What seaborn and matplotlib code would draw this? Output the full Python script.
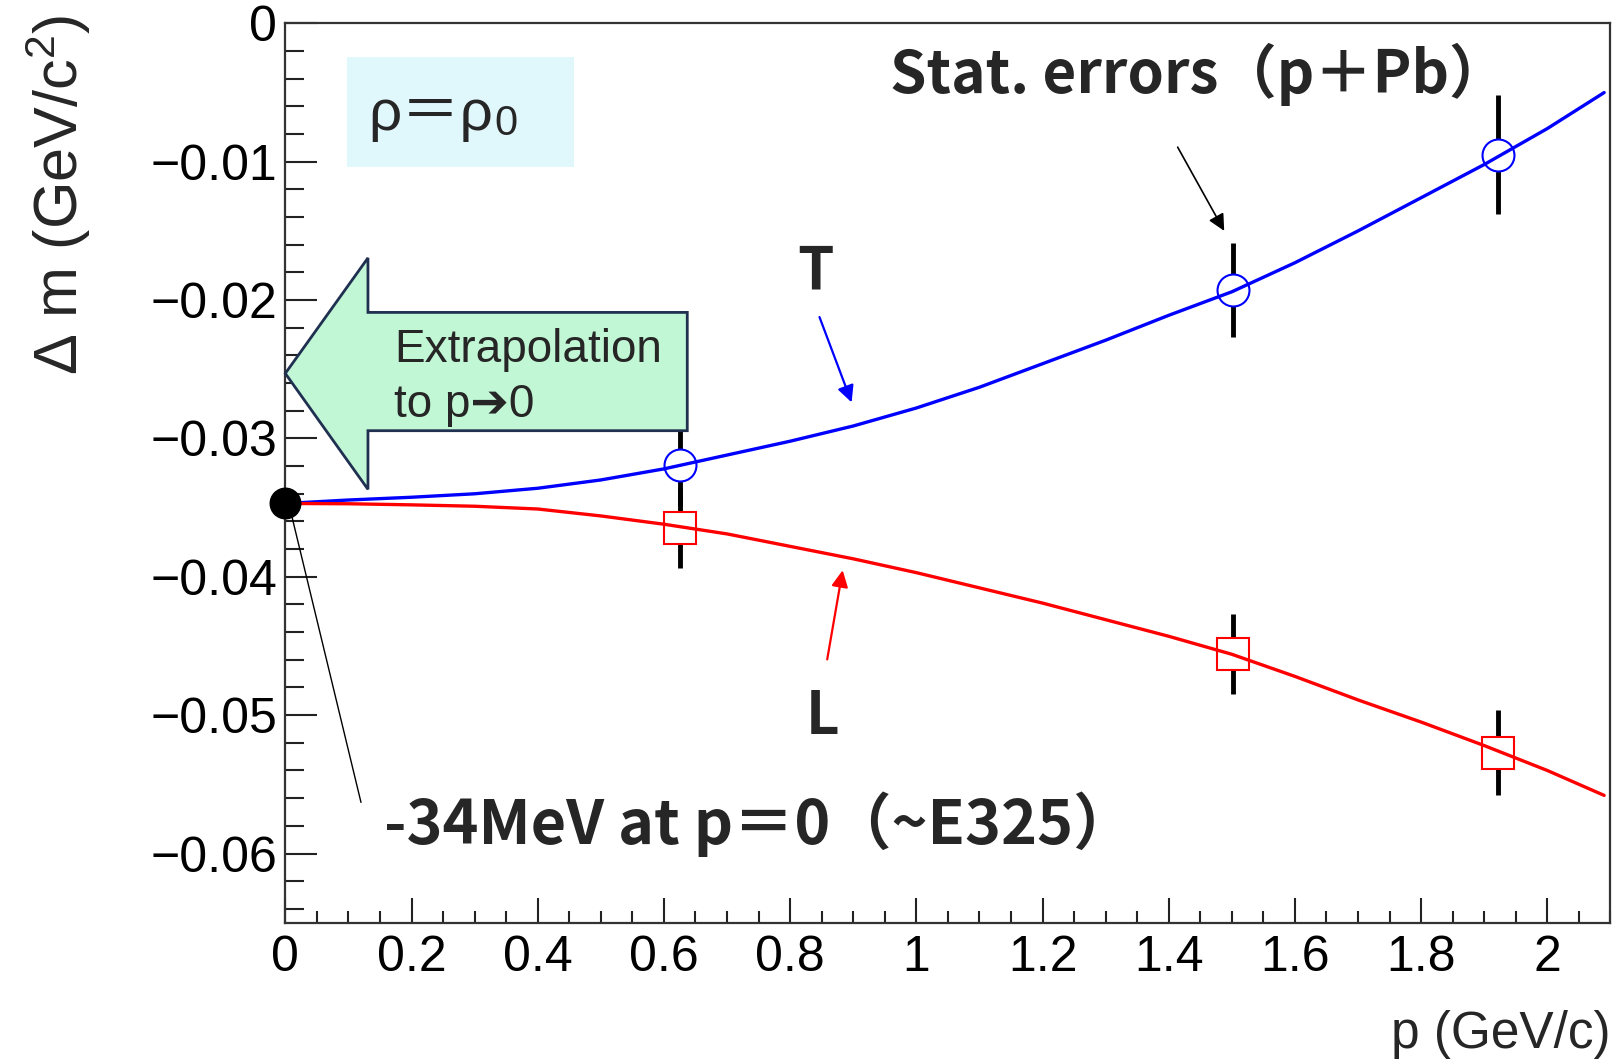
import numpy as np
import pandas as pd
import matplotlib
matplotlib.use("Agg")
import matplotlib.pyplot as plt
import seaborn as sns
from matplotlib.patches import Polygon, Rectangle
from matplotlib.ticker import MultipleLocator, FuncFormatter

# ---------------- data ----------------
p_curve = [0.0, 0.1, 0.2, 0.3, 0.4, 0.5, 0.6, 0.7, 0.8, 0.9, 1.0, 1.1, 1.2,
           1.3, 1.4, 1.5, 1.6, 1.7, 1.8, 1.9, 2.0, 2.09]
t_curve = [-0.0347, -0.03445, -0.03425, -0.0340, -0.0336, -0.0330, -0.0322,
           -0.0312, -0.0302, -0.0291, -0.0278, -0.0263, -0.0246, -0.0229,
           -0.0211, -0.0194, -0.0173, -0.0150, -0.0126, -0.0102, -0.0076, -0.0050]
l_curve = [-0.0347, -0.03472, -0.0348, -0.0349, -0.0351, -0.0356, -0.0362,
           -0.0369, -0.0378, -0.0387, -0.0397, -0.0408, -0.0419, -0.0431,
           -0.0443, -0.0456, -0.0472, -0.0489, -0.0505, -0.0522, -0.0540, -0.0558]

p_pts = [0.626, 1.502, 1.922]
t_pts = [-0.0319, -0.0193, -0.0095]
t_err = [0.0030, 0.0034, 0.0043]
l_pts = [-0.0365, -0.0456, -0.0527]
l_err = [0.0029, 0.0029, 0.0031]

p_zero = [0.0]
m_zero = [-0.0347]

x_ticks = [0, 0.2, 0.4, 0.6, 0.8, 1.0, 1.2, 1.4, 1.6, 1.8, 2.0]
y_ticks = [0, -0.01, -0.02, -0.03, -0.04, -0.05, -0.06]

# ---------------- style ----------------
sns.set_theme(style="ticks")
plt.rcParams["font.family"] = ["Liberation Sans", "DejaVu Sans"]
plt.rcParams["mathtext.fontset"] = "custom"
plt.rcParams["mathtext.rm"] = "Liberation Sans"
plt.rcParams["mathtext.it"] = "Liberation Sans:italic"
plt.rcParams["mathtext.bf"] = "Liberation Sans:bold"

JP = ["Noto Sans CJK JP", "DejaVu Sans"]

fig, ax = plt.subplots(figsize=(16.21, 10.63), dpi=100)
fig.subplots_adjust(left=0.176, right=0.9935, bottom=0.132, top=0.978)

df_t = pd.DataFrame({"p": p_curve, "dm": t_curve})
df_l = pd.DataFrame({"p": p_curve, "dm": l_curve})
sns.lineplot(data=df_t, x="p", y="dm", color="#0000ff", lw=2.4, ax=ax,
             sort=False, zorder=5)
sns.lineplot(data=df_l, x="p", y="dm", color="#ff0000", lw=2.4, ax=ax,
             sort=False, zorder=5)

# error bars, then white-filled markers, curves on top
ax.errorbar(p_pts, t_pts, yerr=t_err, fmt="none", ecolor="black",
            elinewidth=3.5, capsize=0, zorder=2)
ax.errorbar(p_pts, l_pts, yerr=l_err, fmt="none", ecolor="black",
            elinewidth=3.5, capsize=0, zorder=2)
ax.plot(p_pts, t_pts, "o", ms=23, mfc="white", mec="#0000ff", mew=1.5,
        zorder=3, ls="none")
ax.plot(p_pts, l_pts, "s", ms=23, mfc="white", mec="#ff0000", mew=1.5,
        zorder=3, ls="none")

ax.plot(p_zero, m_zero, "o", ms=22, color="black", zorder=7, clip_on=False)

ax.set_xlim(0, 2.1)
ax.set_ylim(-0.065, 0)

# ticks
ax.xaxis.set_major_locator(MultipleLocator(0.2))
ax.xaxis.set_minor_locator(MultipleLocator(0.05))
ax.yaxis.set_major_locator(MultipleLocator(0.01))
ax.yaxis.set_minor_locator(MultipleLocator(0.002))
fmt = FuncFormatter(lambda v, pos: ("%g" % round(v, 6)).replace("-", "\u2212"))
ax.xaxis.set_major_formatter(fmt)
ax.yaxis.set_major_formatter(fmt)
ax.set_xticks(x_ticks)
ax.set_yticks(y_ticks)

ax.tick_params(axis="both", which="both", direction="in", colors="#222222",
               labelcolor="black", width=1.5, top=False, right=False)
ax.tick_params(axis="x", which="major", length=18, labelsize=36, pad=9)
ax.tick_params(axis="x", which="minor", length=9)
ax.tick_params(axis="y", which="major", length=23, labelsize=36, pad=6)
ax.tick_params(axis="y", which="minor", length=14)
for s in ax.spines.values():
    s.set_color("#333333")
    s.set_linewidth(1.6)
    s.set_visible(True)

ax.set_xlabel("p (GeV/c)", fontsize=37, loc="right")
ax.xaxis.set_label_coords(1.0, -0.097)
ax.set_ylabel(r"$\Delta$ m (GeV/c$^{2}$)", fontsize=44, loc="top")
ax.yaxis.set_label_coords(-0.145, 1.01)

# ---------------- decorations ----------------
ax.add_patch(Rectangle((0.098, -0.0104), 0.36, 0.0080, facecolor="#e0f7fc",
                       edgecolor="none", zorder=1))
rho = ax.text(0.132, -0.0066, "ρ＝ρ", fontsize=42,
              family=["Liberation Sans", "Noto Sans CJK JP"], ha="left",
              va="center", zorder=6)
ax.annotate("0", xy=(1, 0), xycoords=rho, xytext=(1, -2),
            textcoords="offset points", fontsize=30, ha="left", va="bottom",
            zorder=6)

arrow_poly = [(0.0, -0.0253), (0.131, -0.01695), (0.131, -0.02089),
              (0.637, -0.02089), (0.637, -0.02944), (0.131, -0.02944),
              (0.131, -0.03368)]
ax.add_patch(Polygon(arrow_poly, closed=True, facecolor="#c2f7d6",
                     edgecolor="#1f3050", lw=2, zorder=6, clip_on=False))
ax.text(0.173, -0.0236, "Extrapolation", fontsize=33, ha="left",
        va="center", zorder=7)
ax.text(0.173, -0.0276, "to p\u27940", fontsize=33, ha="left",
        va="center", zorder=7, family=["Liberation Sans", "DejaVu Sans"])

ax.text(1.448, -0.0037, "Stat. errors（p＋Pb）", fontsize=42, family=JP,
        fontweight="bold", ha="center", va="center", zorder=8)
ax.annotate("", xy=(1.490, -0.01517), xytext=(1.412, -0.00877),
            arrowprops=dict(arrowstyle="-|>", color="black", lw=1.2,
                            mutation_scale=25), zorder=8)

ax.text(0.840, -0.0180, "T", fontsize=42, family=JP, fontweight="bold",
        ha="center", va="center", zorder=8)
ax.annotate("", xy=(0.899, -0.02758), xytext=(0.845, -0.02104),
            arrowprops=dict(arrowstyle="-|>", color="#0000ff", lw=1.6,
                            mutation_scale=25), zorder=8)

ax.text(0.851, -0.0501, "L", fontsize=42, family=JP, fontweight="bold",
        ha="center", va="center", zorder=8)
ax.annotate("", xy=(0.884, -0.03933), xytext=(0.858, -0.04617),
            arrowprops=dict(arrowstyle="-|>", color="#ff0000", lw=1.6,
                            mutation_scale=25), zorder=8)

ax.text(0.157, -0.0579, "-34MeV at p＝0（~E325）", fontsize=44, family=JP,
        fontweight="bold", ha="left", va="center", zorder=8)
ax.annotate("", xy=(0.006, -0.0348), xytext=(0.121, -0.0565),
            arrowprops=dict(arrowstyle="-", color="black", lw=1.0),
            zorder=8)

fig.savefig("out.png", dpi=100)
